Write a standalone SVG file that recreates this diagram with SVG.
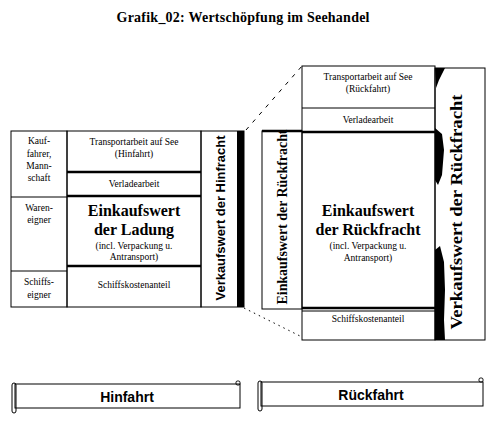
<svg xmlns="http://www.w3.org/2000/svg" width="500" height="423" viewBox="0 0 500 423">
<style>
.ln{fill:none;stroke:#000;stroke-width:1}
.tk{stroke:#000;stroke-width:2.5}
.s{font-family:"Liberation Serif",serif;font-size:9.5px;text-anchor:middle;fill:#000}
.b{font-family:"Liberation Serif",serif;font-weight:bold;text-anchor:middle;fill:#000}
.h{font-family:"Liberation Sans",sans-serif;font-weight:bold;text-anchor:middle;fill:#000}
.d{fill:none;stroke:#000;stroke-width:1;stroke-dasharray:4 6}
.dt{fill:none;stroke:#000;stroke-width:1;stroke-dasharray:1.5 4}
</style>
<rect width="500" height="423" fill="#fff"/>
<text class="b" x="243" y="22" font-size="14" textLength="253">Grafik_02: Wertschöpfung im Seehandel</text>

<g id="connectors">
<line class="d" x1="246" y1="130" x2="302" y2="66"/>
<line class="dt" x1="244" y1="308" x2="302" y2="337"/>
</g>

<g id="hin-owners">
<rect class="ln" x="11" y="131" width="56" height="176"/>
<line class="ln" x1="11" y1="197" x2="67" y2="197"/>
<line class="ln" x1="11" y1="271" x2="67" y2="271"/>
<text class="s" x="39" y="144">Kauf-</text>
<text class="s" x="39" y="157">fahrer,</text>
<text class="s" x="39" y="169">Mann-</text>
<text class="s" x="39" y="181">schaft</text>
<text class="s" x="39" y="211">Waren-</text>
<text class="s" x="39" y="223">eigner</text>
<text class="s" x="39" y="285">Schiffs-</text>
<text class="s" x="39" y="298">eigner</text>
</g>

<g id="hin-components">
<rect class="ln" x="67" y="131" width="134" height="176"/>
<line class="tk" x1="67" y1="172" x2="201" y2="172"/>
<line class="tk" x1="67" y1="196" x2="201" y2="196"/>
<line class="tk" x1="67" y1="266" x2="201" y2="266"/>
<text class="s" x="134" y="145">Transportarbeit auf See</text>
<text class="s" x="134" y="157">(Hinfahrt)</text>
<text class="s" x="134" y="187">Verladearbeit</text>
<text class="b" x="134" y="216" font-size="16">Einkaufswert</text>
<text class="b" x="134" y="235" font-size="16">der Ladung</text>
<text class="s" x="134" y="249">(incl. Verpackung u.</text>
<text class="s" x="134" y="260">Antransport)</text>
<text class="s" x="134" y="288">Schiffskostenanteil</text>
</g>

<g id="hin-verkauf">
<rect class="ln" x="201" y="131" width="43" height="176"/>
<rect x="237" y="131" width="7" height="176" fill="#000"/>
<text class="h" transform="translate(225,218) rotate(-90)" font-size="13" textLength="165" lengthAdjust="spacingAndGlyphs">Verkaufswert  der Hinfracht</text>
</g>

<g id="rueck-einkauf">
<rect class="ln" x="262" y="131" width="40" height="178"/>
<line class="tk" x1="262" y1="131" x2="302" y2="131"/>
<text class="b" transform="translate(287,217) rotate(-90)" font-size="15" textLength="175" lengthAdjust="spacingAndGlyphs">Einkaufswert der Rückfracht</text>
</g>

<g id="rueck-components">
<rect class="ln" x="302" y="66" width="133" height="274"/>
<line class="ln" x1="302" y1="108" x2="435" y2="108"/>
<line class="tk" x1="302" y1="132" x2="435" y2="132"/>
<line class="tk" x1="302" y1="308" x2="435" y2="308"/>
<line class="ln" x1="302" y1="311" x2="435" y2="311"/>
<text class="s" x="368" y="80">Transportarbeit auf See</text>
<text class="s" x="368" y="92">(Rückfahrt)</text>
<text class="s" x="368" y="123">Verladearbeit</text>
<text class="b" x="368" y="216" font-size="16">Einkaufswert</text>
<text class="b" x="368" y="235" font-size="16">der Rückfracht</text>
<text class="s" x="368" y="249">(incl. Verpackung u.</text>
<text class="s" x="368" y="261">Antransport)</text>
<text class="s" x="368" y="322">Schiffskostenanteil</text>
</g>

<g id="rueck-verkauf">
<rect class="ln" x="435" y="68" width="50" height="272"/>
<path d="M435 68 L445 68 L442 74 L439 80 L436 88 Z M435 128 L442 134 L444 150 L442 175 L438 185 L435 180 Z M435 250 L440 246 L444 262 L445 290 L444 320 L445 340 L435 340 Z" fill="#000"/>
<text class="b" transform="translate(462,212) rotate(-90)" font-size="17" textLength="235" lengthAdjust="spacingAndGlyphs">Verkaufswert der Rückfracht</text>
</g>

<g id="banner-hin">
<rect class="ln" x="15" y="384" width="225" height="24"/>
<rect class="ln" x="12" y="383" width="4" height="30" rx="2"/>
<rect class="ln" x="236" y="381" width="4" height="4" rx="1.5"/>
<text class="h" x="127" y="402" font-size="14">Hinfahrt</text>
</g>

<g id="banner-rueck">
<rect class="ln" x="261" y="382" width="222" height="24"/>
<rect class="ln" x="258" y="381" width="4" height="30" rx="2"/>
<rect class="ln" x="479" y="378" width="4" height="4" rx="1.5"/>
<text class="h" x="371" y="400" font-size="14">Rückfahrt</text>
</g>
</svg>
